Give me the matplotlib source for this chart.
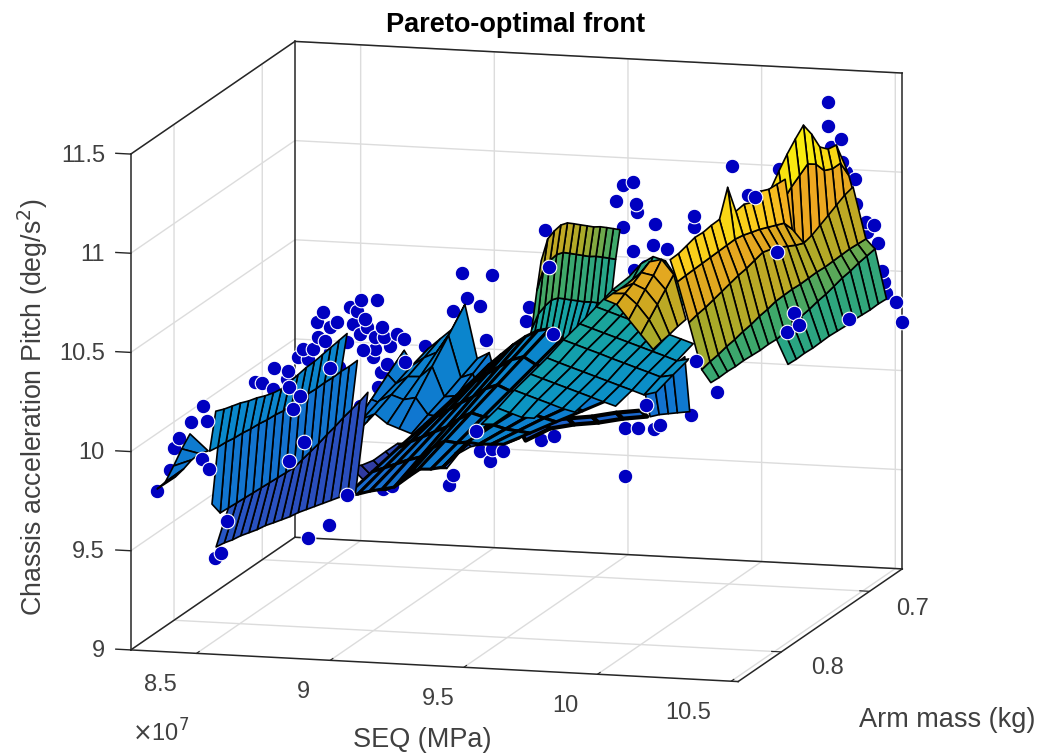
import numpy as np
import matplotlib
matplotlib.use("Agg")
import matplotlib.pyplot as plt
from matplotlib.colors import LinearSegmentedColormap, Normalize
from mpl_toolkits.mplot3d.art3d import Poly3DCollection

plt.rcParams['font.family'] = ['Liberation Sans', 'DejaVu Sans']
n = np.nan

X_LIM = (8.254, 10.526)
Y_LIM = (0.849, 0.663)
Z_LIM = (9.0, 11.5)
X_TICKS = [8.5, 9, 9.5, 10, 10.5]
X_LABELS = ['8.5', '9', '9.5', '10', '10.5']
Y_TICKS = [0.7, 0.8]
Y_LABELS = ['0.7', '0.8']
Z_TICKS = [9, 9.5, 10, 10.5, 11, 11.5]
Z_LABELS = ['9', '9.5', '10', '10.5', '11', '11.5']

# colour scale levels (z, colour)
COLOR_Z = [9.25, 9.5, 9.7, 9.85, 10.1, 10.2, 10.3, 10.42, 10.58, 10.7, 10.85, 11.0, 11.05, 11.15, 11.35]
COLOR_HEX = ['#352a87', '#2a50c0', '#1c66cc', '#0f78d0', '#0a88cc', '#0d97c0', '#17a4a0', '#28a585', '#40a868',
             '#a8aa2a', '#d4a81f', '#f0a820', '#fbcb1e', '#f8df10', '#f9fb0e']

Y_FINE = [.849, .8397, .8304, .8211, .8118, .8025, .7932, .7839, .7746, .7653, .756,
          .7467, .7374, .7281, .7188, .7095, .7002, .6909, .6816, .6723, .663]

# left tail
TAIL_X = [8.322, 8.390]
TAIL_Y = [.8397, .8304, .8211, .8118, .8025, .7932, .7839, .7746]
TAIL_Z = [[9.788, 9.795, 9.847, 9.905, 9.952, 9.979, 9.986, 9.978],
          [9.853, 9.865, 9.883, 9.885, 9.871, n, n, n]]

# left main panel
LEFT_X = [8.481, 8.527, 8.549, 8.572]
LEFT_Z = [
    [n, n, n, 9.45, 9.442, 9.429, 9.421, 9.408, 9.395, 9.387, 9.373, 9.36, 9.347, 9.339, 9.326, 9.313, 9.3, 9.287, 9.274, 9.256, 9.242],
    [n, 9.726, 9.653, 9.65, 9.647, 9.644, 9.641, 9.638, 9.635, 9.632, 9.629, 9.626, 9.638, 9.65, 9.662, 9.679, 9.691, 9.708, 9.72, 9.732, 9.75],
    [10.023, 10.015, 10.012, 10.004, 10.001, 9.993, 9.99, 9.982, 9.979, 9.971, 9.973, 9.97, 9.972, 9.969, 9.971, 9.968, 9.97, 9.967, 9.969, n, n],
    [10.226, 10.208, 10.195, 10.182, 10.164, 10.151, 10.133, 10.119, 10.111, 10.118, 10.125, 10.133, 10.135, 10.142, 10.149, 10.156, 10.163, n, n, n, n],
]

# blue spikes
SPIKE_X = [8.618, 8.663, 8.708, 8.754, 8.799, 8.845, 8.89, 8.936, 8.981, 9.026]
SPIKE_Y = [.7374, .7188, .7002, .6816, .663]
SPIKE_Z = [
    [9.649, 9.694, 9.738, 9.787, 9.837],
    [9.703, 9.772, 9.837, 9.906, 9.971],
    [9.756, 9.785, 9.815, 9.844, 9.873],
    [9.86, 9.894, 9.923, 9.958, 9.987],
    [9.888, 9.927, 9.962, 10.001, 10.04],
    [9.841, 9.906, 9.965, 10.03, 10.094],
    [9.819, 9.919, 10.019, 10.118, 10.218],
    [9.797, 9.836, 9.87, 9.91, 9.949],
    [9.775, 9.829, 9.878, 9.933, 9.982],
    [9.753, 9.752, 9.75, 9.754, 9.754],
]

# dark lower skirt
SKIRT_X = [8.549, 8.595, 8.64, 8.686, 8.731, 8.777, 8.822, 8.867, 8.913, 8.958, 9.004, 9.049, 9.095]
SKIRT_Y = [.6909, .663]
SKIRT_Z = [[9.468, 9.257], [9.472, 9.261], [9.5, 9.289], [9.548, 9.337], [9.592, 9.381], [9.595, 9.384],
           [9.598, 9.387], [9.677, 9.466], [9.715, 9.504], [9.728, 9.517], [9.736, 9.525], [9.74, 9.529], [9.768, 9.557]]

# black band under the slope
BAND_X = [9.117, 9.208, 9.299, 9.39, 9.481, 9.572]
BAND_Y = [.6704, .663]
BAND_Z = [[9.632, 9.548], [9.678, 9.615], [9.695, 9.642], [9.711, 9.658], [9.737, 9.684], [9.754, 9.701]]

# dense middle mesh
MESH_X = [8.936, 8.981, 9.026, 9.072, 9.117, 9.163, 9.208, 9.254, 9.299, 9.345, 9.39, 9.435, 9.481, 9.526]
MESH_Y = [.8118, .782, .7523, .7225, .6928, .663]
MESH_Z = [
    [9.71, 9.741, 9.772, 9.797, 9.828, 9.858],
    [9.723, 9.764, 9.805, 9.84, 9.881, 9.922],
    [9.741, 9.787, 9.833, 9.879, 9.929, 9.975],
    [9.755, 9.811, 9.862, 9.917, 9.973, 10.029],
    [9.768, 9.829, 9.89, 9.951, 10.012, 10.073],
    [9.822, 9.878, 9.933, 9.994, 10.05, 10.106],
    [9.865, 9.916, 9.967, 10.017, 10.068, 10.119],
    [9.868, 9.909, 9.95, 9.99, 10.031, 10.072],
    [9.882, 9.917, 9.948, 9.983, 10.014, 10.05],
    [9.95, 9.966, 9.981, 9.996, 10.012, 10.028],
    [10.014, 10.009, 10.0, 9.994, 9.985, 9.98],
    [10.007, 9.992, 9.977, 9.962, 9.948, 9.933],
    [10.01, 9.985, 9.96, 9.93, 9.91, 9.886],
    [10.013, 9.978, 9.944, 9.908, 9.873, 9.839],
]

# olive wall
WALL_X = [9.39, 9.435, 9.454, 9.47]
WALL_Y = [.7523, .7449, .7374, .73, .7225, .7151, .7077, .7002, .6928, .6853, .6779, .6704, .663]
WALL_Z = [
    [10.15, 10.15, 10.15, 10.15, 10.15, 10.15, 10.15, 10.15, 10.15, 10.15, 10.15, 10.15, 10.15],
    [10.406, 10.459, 10.476, 10.484, 10.471, 10.444, 10.416, 10.389, 10.361, 10.338, 10.311, 10.283, 10.256],
    [10.601, 10.689, 10.707, 10.714, 10.702, 10.675, 10.647, 10.619, 10.591, 10.569, 10.542, 10.514, 10.486],
    [10.751, 10.839, 10.857, 10.864, 10.852, 10.825, 10.797, 10.769, 10.741, 10.719, 10.692, 10.664, 10.636],
]

# dark blue wall under the slope
DARK_X = [9.583, 9.617, 9.651, 9.685, 9.731]
DARK_Y = [.6686, .663]
DARK_Z = [[9.834, 9.701], [9.887, 9.714], [9.94, 9.721], [9.977, 9.728], [10.031, 9.737]]

# teal slope (rows by arm mass)
SLOPE_X = [9.504, 9.549, 9.594, 9.64, 9.685, 9.731, 9.776, 9.822, 9.867, 9.913, 9.958, 10.003, 10.049]
SLOPE_Y = [.8304, .8118, .7932, .7746, .756, .7374, .7188, .7002, .6816, .663]
SLOPE_Z = [
    [10.169, 10.172, n, n, n, n, n, n, n, n, n, n, n],
    [10.193, 10.173, 10.153, 10.152, n, n, n, n, n, n, n, n, n],
    [10.227, 10.207, 10.187, 10.167, 10.147, 10.132, n, n, n, n, n, n, n],
    [10.251, 10.231, 10.211, 10.191, 10.171, 10.151, 10.131, 10.112, n, n, n, n, n],
    [10.276, 10.255, 10.235, 10.215, 10.195, 10.175, 10.155, 10.135, 10.115, 10.132, n, n, n],
    [10.31, 10.29, 10.27, 10.25, 10.229, 10.209, 10.189, 10.169, 10.149, 10.161, n, n, n],
    [10.334, 10.314, 10.294, 10.274, 10.254, 10.234, 10.214, 10.194, 10.173, 10.186, n, n, n],
    [10.363, 10.343, 10.323, 10.303, 10.283, 10.263, 10.243, 10.223, 10.203, n, n, n, n],
    [10.392, 10.372, 10.352, 10.332, 10.312, 10.292, 10.272, n, n, n, n, n, n],
    [10.401, 10.47, 10.509, 10.491, 10.404, 10.306, n, n, n, n, n, n, n],
]

# gold cap on top of the slope
CAP_X = [10.026, 10.072, 10.117, 10.162, 10.208]
CAP_Y = [.849, .8397, .8304, .8211, .8118]
CAP_Z = [
    [10.891, 10.893, 10.89, 10.892, 10.894],
    [10.869, 10.896, 10.918, 10.945, 10.971],
    [10.796, 10.844, 10.891, 10.933, 10.986],
    [10.724, 10.771, 10.819, 10.866, 10.913],
    [10.652, 10.664, 10.671, 10.683, 10.69],
]

# yellow peaks
PEAK_X = [10.31, 10.326, 10.34]
PEAK_Y = [.756, .7467, .7374, .7281, .7188, .7095, .7002, .6909, .6816, .6723, .663]
PEAK_Z = [
    [11.13, 11.154, 11.217, 11.274, 11.322, 11.364, 11.29, 11.197, 11.158, 11.15, 11.026],
    [11.02, 11.03, 11.07, 11.11, 11.14, 11.17, 11.14, 11.08, 11.06, 11.06, 10.97],
    [10.908, 10.895, 10.877, 10.848, 10.805, 10.792, 10.824, 10.846, 10.868, 10.891, 10.903],
]

# right strips
RIGHT_X = [10.272, 10.299, 10.342, 10.39, 10.424, 10.467]
RIGHT_Z = [
    [11.109, 11.111, 11.123, 11.136, 11.133, 11.14, 11.142, 11.275, 11.126, 11.133, 11.114, 11.142, 11.123, 11.12, 11.117, n, n, n, n, n, n],
    [11.0, 11.003, 11.005, 11.007, 11.009, 11.011, 11.013, 11.015, 11.007, 10.993, 10.98, 10.962, 10.944, 10.926, 10.867, n, n, n, n, n, n],
    [10.797, 10.809, 10.816, 10.828, 10.84, 10.852, 10.864, 10.871, 10.884, 10.896, 10.883, 10.864, 10.841, 10.818, 10.8, 10.812, 10.834, 10.856, 10.879, 10.901, 10.913],
    [10.563, 10.575, 10.582, 10.594, 10.601, 10.613, 10.62, 10.633, 10.64, 10.652, 10.654, 10.656, 10.653, 10.655, 10.657, 10.654, 10.656, 10.658, 10.66, 10.657, 10.654],
    [10.5, 10.497, 10.499, 10.496, 10.498, 10.495, 10.492, 10.494, 10.491, 10.498, 10.51, 10.522, 10.529, 10.541, 10.548, 10.56, 10.573, 10.58, 10.592, 10.599, 10.606],
    [n, n, n, n, n, n, n, n, 10.368, 10.365, 10.367, 10.364, 10.366, 10.368, 10.365, 10.362, 10.364, 10.361, 10.358, 10.36, 10.357],
]

# Pareto points: behind the surface
BACK_LOW_X = [8.29, 8.338, 8.353, 8.372, 8.417, 8.462]
BACK_LOW_Z = [9.747, 9.857, 9.968, 10.02, 10.104, 10.187]
BACK_MID_X = [8.284, 8.261, 8.609, 8.688, 8.587, 8.482, 8.534, 8.437, 8.411, 8.478, 8.516, 8.53, 8.725, 8.665, 8.609,
              8.871, 8.803, 8.882, 8.904, 9.046, 8.859, 8.915, 8.968, 8.942, 8.893, 8.886, 8.859, 8.803, 8.777, 8.717,
              8.665, 8.643, 8.646, 8.766, 8.792, 8.807, 8.867, 8.822, 8.83, 8.691, 8.673, 8.59, 8.628, 8.691, 8.755,
              8.852, 8.572, 8.889, 8.923, 9.764, 9.838, 9.842, 10.055, 10.055, 9.909, 9.79, 9.498, 9.902, 9.824, 9.831,
              9.876, 9.185, 9.297, 9.203, 9.252, 9.151, 9.435, 9.424, 9.274, 10.044, 9.532, 9.48, 9.797, 9.846, 9.906,
              9.928, 9.252, 9.297, 9.341, 9.289, 9.151, 9.136, 9.797, 10.197, 10.257, 10.141, 10.373, 9.79, 9.827]
BACK_MID_Z = [9.209, 9.182, 9.306, 9.377, 9.486, 10.155, 10.143, 10.076, 10.079, 10.048, 10.016, 10.103, 10.176, 10.177, 10.209,
              10.086, 9.985, 10.162, 10.204, 10.304, 10.277, 10.295, 10.334, 10.358, 10.339, 10.389, 10.337, 10.348, 10.397, 10.403,
              10.449, 10.398, 10.322, 10.482, 10.463, 10.52, 10.524, 10.425, 10.385, 10.376, 10.304, 10.258, 10.26, 10.25, 10.304,
              10.236, 10.216, 9.573, 9.59, 11.085, 11.074, 11.035, 11.029, 10.974, 10.979, 10.956, 10.92, 10.872, 10.837, 10.741,
              10.764, 10.682, 10.679, 10.557, 10.52, 10.488, 10.528, 10.457, 10.35, 10.025, 9.884, 9.86, 9.943, 9.946, 9.945,
              9.967, 9.789, 9.802, 9.795, 9.741, 9.661, 9.61, 9.701, 11.291, 11.149, 10.148, 11.288, 11.167, 11.185]
BACK_HIGH_X = [10.25, 10.25, 10.298, 10.35, 10.317, 10.302, 10.261, 10.354, 10.392, 10.421, 10.395, 10.436, 10.451, 10.459, 10.466, 10.504, 10.526]
BACK_HIGH_Z = [11.335, 11.214, 11.152, 10.954, 10.987, 11.036, 11.109, 10.828, 10.74, 10.727, 10.689, 10.637, 10.497, 10.442, 10.387, 10.344, 10.245]
# Pareto points: in front of the surface
FRONT_LOW_X = [8.458, 8.484, 8.477]
FRONT_LOW_Z = [9.92, 9.871, 10.113]
FRONT_MID_X = [8.306, 8.755, 8.538, 8.594, 8.553, 8.579, 8.538, 8.691, 8.972, 8.815, 9.954, 9.513, 9.525, 9.876, 9.237, 10.283, 10.365, 10.429, 10.403, 10.063]
FRONT_MID_Z = [9.371, 9.533, 9.69, 9.789, 9.953, 10.02, 10.063, 10.169, 10.219, 10.269, 10.856, 10.735, 10.398, 10.064, 9.889, 11.14, 10.869, 10.566, 10.468, 10.299]
FRONT_HIGH_X = [10.141, 10.328]
FRONT_HIGH_Z = [10.204, 10.246]
MASS_LOW, MASS_MID, MASS_HIGH = 0.8304, 0.756, 0.663

GREY = '#262626'
LABEL_GREY = '#404040'
W, H = 1039, 755
S = 900
fig = plt.figure(figsize=(W / 100, H / 100), dpi=100, facecolor='white')
ax = fig.add_axes([(516.5 - .5135 * S) / W, (393.5 - .5135 * S) / H, S / W, S / H],
                  projection='3d', computed_zorder=False)
ax.set_proj_type('ortho')
ax.view_init(elev=10.9, azim=-74.6)
ax.set_box_aspect((630, 618, 505), zoom=987 / S)
ax.set_xlim(*X_LIM)
ax.set_ylim(*Y_LIM)
ax.set_zlim(*Z_LIM)
ax.patch.set_alpha(0)

cmap = LinearSegmentedColormap.from_list(
    'front', [((z - COLOR_Z[0]) / (COLOR_Z[-1] - COLOR_Z[0]), c) for z, c in zip(COLOR_Z, COLOR_HEX)])
norm = Normalize(COLOR_Z[0], COLOR_Z[-1])


def surface(xs, ys, zz, zorder, lw=1.2):
    zz = np.asarray(zz, float)
    polys, cols = [], []
    for i in range(len(xs) - 1):
        for j in range(len(ys) - 1):
            q = [zz[i, j], zz[i + 1, j], zz[i + 1, j + 1], zz[i, j + 1]]
            if np.isnan(q).any():
                continue
            polys.append([(xs[i], ys[j], q[0]), (xs[i + 1], ys[j], q[1]),
                          (xs[i + 1], ys[j + 1], q[2]), (xs[i], ys[j + 1], q[3])])
            cols.append(cmap(norm(np.mean(q))))
    pc = Poly3DCollection(polys, facecolors=cols, edgecolors='black', linewidths=lw, zorder=zorder)
    ax.add_collection3d(pc)


def dots(xs, y, zs, zorder):
    ax.scatter(xs, [y] * len(xs), zs, s=110, c='#0000c0', edgecolors='white', linewidths=0.8,
               depthshade=False, zorder=zorder)


dots(BACK_LOW_X, MASS_LOW, BACK_LOW_Z, 5)
dots(BACK_MID_X, MASS_MID, BACK_MID_Z, 5)
dots(BACK_HIGH_X, MASS_HIGH, BACK_HIGH_Z, 5)

surface(SKIRT_X, SKIRT_Y, SKIRT_Z, 10)
surface(SPIKE_X, SPIKE_Y, SPIKE_Z, 11)
surface(WALL_X, WALL_Y, WALL_Z, 12)
surface(BAND_X, BAND_Y, BAND_Z, 12.5, lw=3)
surface(MESH_X, MESH_Y, MESH_Z, 13, lw=2.2)
surface(TAIL_X, TAIL_Y, TAIL_Z, 14)
surface(LEFT_X, Y_FINE, LEFT_Z, 15)
surface(DARK_X, DARK_Y, DARK_Z, 16)
surface(SLOPE_X, SLOPE_Y, np.array(SLOPE_Z).T, 17)
surface(CAP_X, CAP_Y, CAP_Z, 17.5)
surface(PEAK_X, PEAK_Y, PEAK_Z, 18)
surface(RIGHT_X, Y_FINE, RIGHT_Z, 19)

dots(FRONT_LOW_X, MASS_LOW, FRONT_LOW_Z, 30)
dots(FRONT_MID_X, MASS_MID, FRONT_MID_Z, 30)
dots(FRONT_HIGH_X, MASS_HIGH, FRONT_HIGH_Z, 30)

# box
x0, x1 = X_LIM; y0, y1 = Y_LIM; z0, z1 = Z_LIM
for xs, ys, zs in [((x0, x0), (y1, y1), (z0, z1)), ((x1, x1), (y1, y1), (z0, z1)),
                   ((x0, x1), (y1, y1), (z1, z1)), ((x0, x0), (y0, y1), (z1, z1)),
                   ((x0, x1), (y1, y1), (z0, z0)), ((x0, x0), (y0, y1), (z0, z0)),
                   ((x0, x0), (y0, y0), (z0, z1)), ((x0, x1), (y0, y0), (z0, z0)),
                   ((x1, x1), (y0, y1), (z0, z0))]:
    ax.plot(xs, ys, zs, color=GREY, lw=1.1, zorder=3)

ax.set_xticks(X_TICKS); ax.set_xticklabels([])
ax.set_yticks(Y_TICKS); ax.set_yticklabels([])
ax.set_zticks(Z_TICKS); ax.set_zticklabels([])
for axis in (ax.xaxis, ax.yaxis, ax.zaxis):
    axis.set_pane_color((1, 1, 1, 0))
    axis.pane.set_edgecolor((1, 1, 1, 0))
    axis.line.set_color((0, 0, 0, 0))
    axis._axinfo['grid'].update(color='#dcdcdc', linewidth=1.0)
    axis._axinfo['tick'].update(inward_factor=0.0, outward_factor=0.2)
ax.zaxis._axinfo['tick'].update(inward_factor=0.0, outward_factor=0.0)
ax.tick_params(axis='both', colors=GREY, width=1.0)

# z tick marks at the front-left edge
for z in Z_TICKS:
    ax.plot((x0, x0 - 0.056), (y0, y0), (z, z), color=GREY, lw=1.0, zorder=3)


def label(px, py, s, **kw):
    kw.setdefault('ha', 'center')
    kw.setdefault('va', 'center')
    kw.setdefault('color', LABEL_GREY)
    fig.text(px / W, 1 - py / H, s, **kw)


for (px, py), lab in zip([(160, 685), (303, 692), (438, 699), (565, 706), (688, 713)], X_LABELS):
    label(px, py, lab, fontsize=17)
for (px, py), lab in zip([(913, 609), (828, 668)], Y_LABELS):
    label(px, py, lab, fontsize=17)
for py, lab in zip([651, 552, 453, 354, 255, 156], Z_LABELS):
    label(105, py, lab, fontsize=17, ha='right')

label(516, 25, 'Pareto-optimal front', fontsize=19.5, fontweight='bold', color='black')
label(422, 740, 'SEQ (MPa)', fontsize=19.5)
label(947, 720, 'Arm mass (kg)', fontsize=19.5)
label(33, 407, 'Chassis acceleration Pitch (deg/s$^2$)', rotation=90, fontsize=19.3)
label(161, 733, r'$\times$10$^7$', fontsize=17)

fig.savefig('out.png', dpi=100, facecolor='white')
